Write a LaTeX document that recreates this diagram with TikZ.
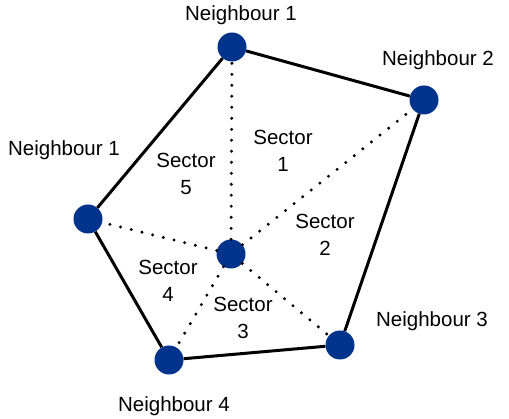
\documentclass[tikz,border=0pt]{standalone}
\usepackage{fontspec}
\setmainfont{Liberation Sans}
\definecolor{nodeblue}{RGB}{0,52,140}
\tikzset{
    vertex/.style={circle, fill=nodeblue, minimum size=29pt, inner sep=0pt},
    edge/.style={line width=3pt},
    spoke/.style={line width=3.3pt, line cap=round, dash pattern=on 0pt off 11pt},
    lbl/.style={align=center, inner sep=0pt}
}
\begin{document}
\begin{tikzpicture}[x=1pt, y=-1pt]
    \fontsize{20.5}{27}\selectfont
    \useasboundingbox (0, 0) rectangle (509, 419);
    \node [vertex] (top) at (232, 47) {};
    \node [vertex] (right) at (424, 100) {};
    \node [vertex] (left) at (88, 219) {};
    \node [vertex] (centre) at (231, 254) {};
    \node [vertex] (botleft) at (169, 360) {};
    \node [vertex] (botright) at (340, 345) {};
    \draw [edge] (top) -- (right) -- (botright) -- (botleft) -- (left) -- (top);
    \draw [spoke] (centre) -- (top);
    \draw [spoke] (centre) -- (right);
    \draw [spoke] (centre) -- (botright);
    \draw [spoke] (centre) -- (botleft);
    \draw [spoke] (centre) -- (left);
    \node [lbl] (ntop) at (241, 15) {Neighbour 1};
    \node [lbl] (nright) at (438, 60) {Neighbour 2};
    \node [lbl] (nleft) at (64, 150) {Neighbour 1};
    \node [lbl] (nbotright) at (432, 321) {Neighbour 3};
    \node [lbl] (nbotleft) at (174, 406) {Neighbour 4};
    \node [lbl] (sone) at (283, 151) {Sector\\1};
    \node [lbl] (sfive) at (186, 174) {Sector\\5};
    \node [lbl] (stwo) at (325, 235) {Sector\\2};
    \node [lbl] (sfour) at (168, 281) {Sector\\4};
    \node [lbl] (sthree) at (243, 318) {Sector\\3};
\end{tikzpicture}
\end{document}
